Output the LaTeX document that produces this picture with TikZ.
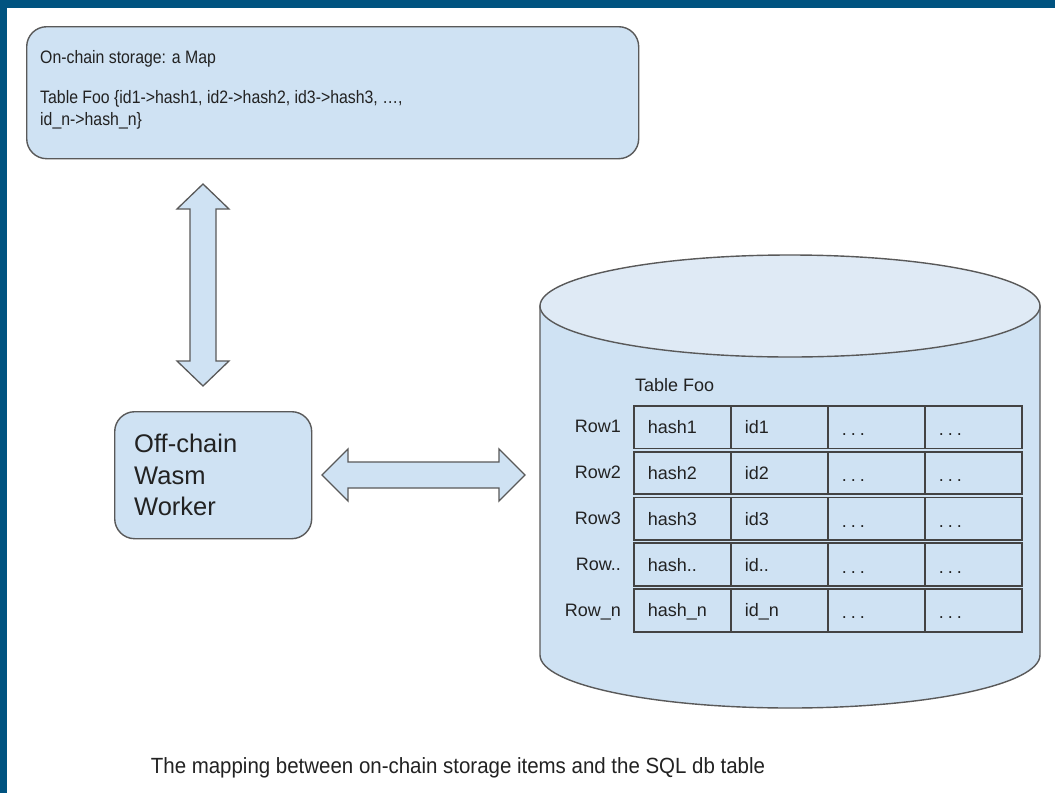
\documentclass[tikz,border=0pt]{standalone}
\usepackage{fontspec}
\setmainfont{Liberation Sans}
\newfontfamily\narrowsans[FakeStretch=0.88]{Liberation Sans}
\newfontfamily\captionsans[FakeStretch=0.93]{Liberation Sans}
\usetikzlibrary{calc}

\definecolor{frameblue}{RGB}{0,83,128}
\definecolor{boxfill}{HTML}{CFE2F3}
\definecolor{toplight}{HTML}{DFEAF5}
\definecolor{edge}{HTML}{595959}
\definecolor{gridline}{HTML}{434343}
\definecolor{ink}{HTML}{222222}

\begin{document}
\begin{tikzpicture}[x=1pt,y=-1pt,
  roundbox/.style={draw=edge, fill=boxfill, line width=1.4pt, rounded corners=20pt,
    anchor=north west, inner sep=0pt},
  fatarrow/.style={draw=edge, fill=boxfill, line width=1.3pt, line join=miter},
  dbedge/.style={draw=edge, line width=1.4pt},
  txt/.style={inner sep=0pt, anchor=base west, text=ink, font=\fontsize{18}{21}\selectfont},
  maptxt/.style={txt, font=\narrowsans\fontsize{18}{21}\selectfont},
  bigtxt/.style={txt, font=\fontsize{25.5}{31}\selectfont},
  cell/.style={draw=gridline, fill=boxfill, line width=1.7pt, anchor=north west,
    minimum width=97pt, minimum height=42.6pt, inner xsep=14pt, inner ysep=0pt,
    text width=69pt, align=left, text height=13pt, text depth=0pt,
    font=\fontsize{18}{21}\selectfont, text=ink},
]
% page and frame band
\useasboundingbox (0,0) rectangle (1055,793);
\fill[white] (0,0) rectangle (1055,793);
\fill[frameblue] (0,0) rectangle (1055,8);
\fill[frameblue] (0,0) rectangle (7,793);

% on-chain storage box
\node[roundbox, minimum width=612pt, minimum height=132pt] (chain) at (26,26) {};
\node[maptxt] (chaintitle) at (40,63) {On-chain storage: a Map};
\node[maptxt] (chainmapa) at (40,103) {Table Foo \{id1->hash1, id2->hash2, id3->hash3, …,};
\node[maptxt] (chainmapb) at (40,125) {id\_n->hash\_n\}};

% off-chain worker box
\node[roundbox, minimum width=197pt, minimum height=127pt] (worker) at (114,411) {};
\node[bigtxt] (workera) at (134,452) {Off-chain};
\node[bigtxt] (workerb) at (134,484) {Wasm};
\node[bigtxt] (workerc) at (134,515) {Worker};

% vertical double arrow between storage and worker
\coordinate (vtop) at (203,184);
\coordinate (vbot) at (203,386);
\draw[fatarrow] (vtop) -- ++(26,25) -- ++(-13,0) -- ++(0,152) -- ++(13,0) -- (vbot)
  -- ++(-26,-25) -- ++(13,0) -- ++(0,-152) -- ++(-13,0) -- cycle;

% horizontal double arrow between worker and database
\coordinate (hleft) at (322,475);
\coordinate (hright) at (525,475);
\draw[fatarrow] (hleft) -- ++(26,-26) -- ++(0,13) -- ++(151,0) -- ++(0,-13) -- (hright)
  -- ++(-26,26) -- ++(0,-13) -- ++(-151,0) -- ++(0,13) -- cycle;

% database cylinder
\coordinate (dbtop) at (790,306);
\draw[dbedge, fill=boxfill] (540,306) -- (540,655)
  .. controls (540,684.3) and (652,708) .. (790,708)
  .. controls (928,708) and (1040,684.3) .. (1040,655) -- (1040,306) -- cycle;
\draw[dbedge, fill=toplight] (dbtop) ellipse [x radius=250, y radius=51];

% table inside the database
\node[txt] (tabletitle) at (635,391) {Table Foo};
\foreach \r/\lab/\h/\i [count=\k from 0] in
  {1/Row1/hash1/id1, 2/Row2/hash2/id2, 3/Row3/hash3/id3,
   4/Row../hash../id.., 5/Row\_n/hash\_n/id\_n} {
  \pgfmathsetmacro\rowy{405+45.8*\k}
  \pgfmathsetmacro\rowbase{\rowy+27.8}
  \node[cell] (cell-\r-1) at (633,\rowy) {\h};
  \node[cell] (cell-\r-2) at (730,\rowy) {\i};
  \node[cell] (cell-\r-3) at (827,\rowy) {\raisebox{-2pt}{.\kern4pt.\kern4pt.}};
  \node[cell] (cell-\r-4) at (924,\rowy) {\raisebox{-2pt}{.\kern4pt.\kern4pt.}};
  \node[txt, anchor=base east] (rowlab-\r) at (621,\rowbase) {\lab};
}

% caption
\node[txt, anchor=base, font=\captionsans\fontsize{22}{26}\selectfont, text=ink] (caption)
  at (458,773) {The mapping between on-chain storage items and the SQL db table};
\end{tikzpicture}
\end{document}
